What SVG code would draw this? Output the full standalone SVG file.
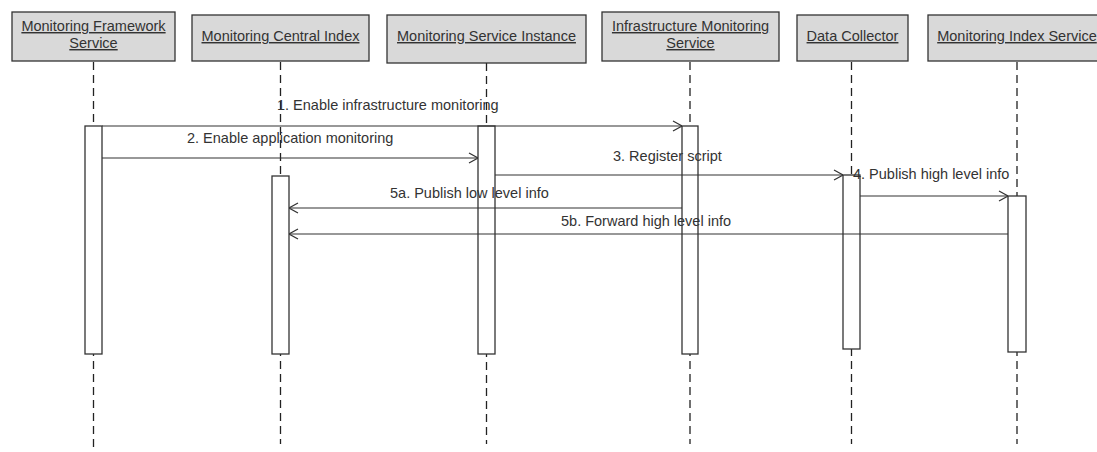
<svg xmlns="http://www.w3.org/2000/svg" width="1097" height="452" viewBox="0 0 1097 452">
  <defs>
    <style>
      .hdr { fill: #d9d9d9; stroke: #333; stroke-width: 1.3; }
      .hdr-t { font-family: "Liberation Sans", Arial, sans-serif; font-size: 14.5px; fill: #333; text-anchor: middle; text-decoration: underline; }
      .life { stroke: #222; stroke-width: 1.3; stroke-dasharray: 8 5; fill: none; }
      .bar { fill: #fff; stroke: #333; stroke-width: 1.3; }
      .msg { stroke: #333; stroke-width: 1.2; fill: none; }
      .lbl { font-family: "Liberation Sans", Arial, sans-serif; font-size: 14.5px; fill: #333; }
    </style>
    <marker id="open" viewBox="0 0 10 12" refX="10" refY="6" markerWidth="10" markerHeight="12" markerUnits="userSpaceOnUse" orient="auto">
      <path d="M1 1 L10 6 L1 11" fill="none" stroke="#333" stroke-width="1.2"/>
    </marker>
  </defs>

  <!-- lifelines (dashed), drawn below activation bars -->
  <g id="lifelines">
    <line class="life" x1="93.5" y1="62" x2="93.5" y2="452"/>
    <line class="life" x1="280.5" y1="62" x2="280.5" y2="444"/>
    <line class="life" x1="486.5" y1="63" x2="486.5" y2="444"/>
    <line class="life" x1="690" y1="62" x2="690" y2="444"/>
    <line class="life" x1="851.5" y1="62" x2="851.5" y2="444"/>
    <line class="life" x1="1017" y1="62" x2="1017" y2="444"/>
  </g>

  <g id="node-framework">
    <rect class="hdr" x="12" y="12" width="163" height="49"/>
    <text class="hdr-t" x="93.5" y="31">Monitoring Framework</text>
    <text class="hdr-t" x="93.5" y="48">Service</text>
    <rect class="bar" x="85" y="126" width="17" height="228"/>
  </g>

  <g id="node-central-index">
    <rect class="hdr" x="192" y="15" width="177" height="46"/>
    <text class="hdr-t" x="280.5" y="41">Monitoring Central Index</text>
    <rect class="bar" x="272" y="176" width="17" height="178"/>
  </g>

  <g id="node-service-instance">
    <rect class="hdr" x="387" y="15" width="199" height="48"/>
    <text class="hdr-t" x="486.5" y="41">Monitoring Service Instance</text>
    <rect class="bar" x="478" y="126" width="17" height="228"/>
  </g>

  <g id="node-infrastructure">
    <rect class="hdr" x="602" y="12" width="177" height="49"/>
    <text class="hdr-t" x="690.5" y="31">Infrastructure Monitoring</text>
    <text class="hdr-t" x="690.5" y="48">Service</text>
    <rect class="bar" x="682" y="126" width="16" height="228"/>
  </g>

  <g id="node-data-collector">
    <rect class="hdr" x="797" y="15" width="111" height="46"/>
    <text class="hdr-t" x="852.5" y="41">Data Collector</text>
    <rect class="bar" x="843" y="175" width="17" height="174"/>
  </g>

  <g id="node-index-service">
    <rect class="hdr" x="928" y="15" width="178" height="46"/>
    <text class="hdr-t" x="1017" y="41">Monitoring Index Service</text>
    <rect class="bar" x="1008" y="196" width="18" height="156"/>
  </g>

  <!-- messages -->
  <g id="connectors">
    <line class="msg" x1="102" y1="126" x2="682" y2="126" marker-end="url(#open)"/>
    <text class="lbl" x="277" y="110">1. Enable infrastructure monitoring</text>

    <line class="msg" x1="102" y1="158" x2="478" y2="158" marker-end="url(#open)"/>
    <text class="lbl" x="187" y="143">2. Enable application monitoring</text>

    <line class="msg" x1="495" y1="175" x2="843" y2="175" marker-end="url(#open)"/>
    <text class="lbl" x="613" y="161">3. Register script</text>

    <line class="msg" x1="860" y1="196" x2="1008" y2="196" marker-end="url(#open)"/>
    <text class="lbl" x="853" y="179">4. Publish high level info</text>

    <line class="msg" x1="682" y1="208" x2="289" y2="208" marker-end="url(#open)"/>
    <text class="lbl" x="390" y="198">5a. Publish low level info</text>

    <line class="msg" x1="1008" y1="234" x2="289" y2="234" marker-end="url(#open)"/>
    <text class="lbl" x="561" y="226">5b. Forward high level info</text>
  </g>
</svg>
